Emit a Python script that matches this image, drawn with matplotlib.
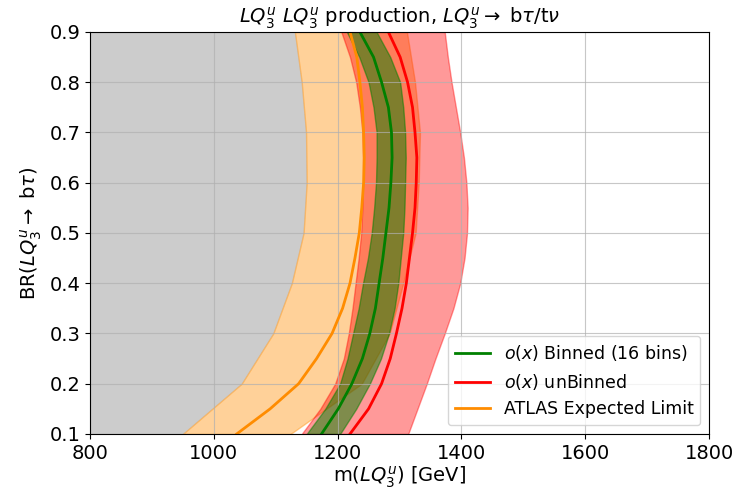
import matplotlib.pyplot as plt
import numpy as np

# coarse grid for the ATLAS band, finer grid for the curves
br = np.array([0.1, 0.2, 0.3, 0.4, 0.5, 0.6, 0.7, 0.8, 0.9])
br_fine = np.array([0.1, 0.15, 0.2, 0.25, 0.3, 0.35, 0.4, 0.45, 0.5,
                    0.55, 0.6, 0.65, 0.7, 0.75, 0.8, 0.85, 0.9])

# ATLAS expected limit band
atlas_lo = np.array([950, 1045, 1096, 1126, 1145, 1150, 1149, 1142, 1131])
atlas_hi = np.array([1124, 1239, 1284, 1306, 1326, 1331, 1333, 1325, 1312])
atlas_exp = np.array([1037, 1091, 1137, 1166, 1191, 1208, 1220, 1228, 1235,
                      1239, 1242, 1243, 1242, 1240, 1236, 1231, 1220])

# binned (16 bins)
binned = np.array([1174, 1201, 1223, 1240, 1252, 1261, 1267, 1273, 1278,
                   1283, 1286, 1288, 1287, 1282, 1271, 1258, 1236])
binned_lo = np.array([1150, 1180, 1204, 1216, 1225, 1234, 1241, 1249, 1255,
                      1259, 1262, 1263, 1263, 1258, 1250, 1235, 1215])
binned_hi = np.array([1204, 1230, 1252, 1270, 1283, 1292, 1298, 1302, 1306,
                      1308, 1309, 1310, 1309, 1306, 1301, 1285, 1263])

# unbinned
unbinned = np.array([1220, 1250, 1271, 1285, 1295, 1304, 1311, 1316, 1321,
                     1325, 1327, 1328, 1325, 1321, 1313, 1301, 1282])
unbinned_lo = np.array([1142, 1172, 1196, 1210, 1218, 1224, 1229, 1234, 1238,
                        1240, 1241, 1241, 1240, 1236, 1230, 1220, 1206])
unbinned_hi = np.array([1314, 1329, 1344, 1358, 1373, 1387, 1398, 1405, 1409,
                        1410, 1408, 1404, 1398, 1391, 1384, 1378, 1373])

fig = plt.figure(figsize=(7.44, 4.92), dpi=100)
ax = fig.add_axes([0.121, 0.118, 0.832, 0.817])

ax.fill_betweenx(br, 800, atlas_lo, color='grey', alpha=0.4, lw=0)
ax.fill_betweenx(br, atlas_lo, atlas_hi, color='darkorange', alpha=0.4)
ax.fill_betweenx(br_fine, unbinned_lo, unbinned_hi, color='red', alpha=0.4)
ax.fill_betweenx(br_fine, binned_lo, binned_hi, color='green', alpha=0.5)

ax.plot(binned, br_fine, color='green', lw=2, label=r'$o(x)$ Binned (16 bins)')
ax.plot(unbinned, br_fine, color='red', lw=2, label=r'$o(x)$ unBinned')
ax.plot(atlas_exp, br_fine, color='darkorange', lw=2, label='ATLAS Expected Limit')

ax.set_xlim(800, 1800)
ax.set_ylim(0.1, 0.9)
ax.set_xticks(np.arange(800, 1801, 200))
ax.set_yticks(br)
ax.tick_params(labelsize=14)
ax.grid(True, alpha=0.7)

ax.set_xlabel(r'm($LQ_3^u$) [GeV]', fontsize=14, labelpad=1)
ax.set_ylabel(r'BR($LQ_3^u\rightarrow$ b$\tau$)', fontsize=14)
ax.set_title(r'$LQ_3^u\ LQ_3^u$ production, $LQ_3^u\rightarrow$ b$\tau$/t$\nu$', fontsize=14)
ax.legend(loc='lower right', fontsize=12.5)

fig.savefig('out.png', dpi=100)
